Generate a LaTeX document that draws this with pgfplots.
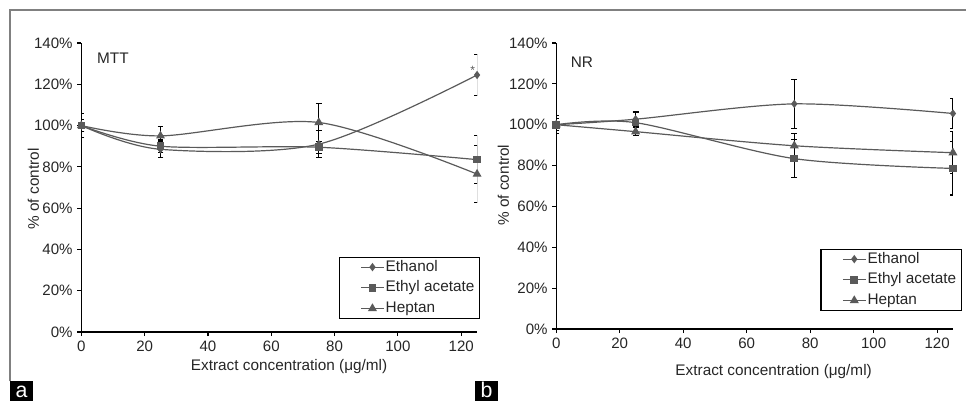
\documentclass[border=0pt]{standalone}
\usepackage{fontspec}
\setmainfont{Liberation Sans}
\usepackage{pgfplots}
\pgfplotsset{compat=1.18}

\definecolor{ser}{HTML}{5A5A5A}
\definecolor{frm}{HTML}{808080}

\pgfplotsset{
  panel/.style={
    scale only axis,
    axis lines*=left,
    axis line style={black, line width=0.8pt},
    xmin=0, xmax=125, ymin=0, ymax=140,
    xtick={0,20,...,120}, ytick={0,20,...,140},
    yticklabel={\pgfmathprintnumber{\tick}\%},
    tick align=outside, major tick length=3pt,
    tick style={black, line width=0.8pt},
    /pgf/number format/assume math mode=true,
    ticklabel style={font=\fontsize{11.3}{13}\selectfont, text=black!85},
    label style={font=\fontsize{11.5}{13}\selectfont, text=black!85},
    ylabel={\% of control},
    xlabel={Extract concentration (μg/ml)},
    error bars/y dir=both, error bars/y explicit,
    error bars/error bar style={black, line width=0.8pt},
    error bars/error mark options={rotate=90, mark size=2.2pt, black, line width=0.8pt},
    legend style={draw=black, line width=0.8pt, fill=white, anchor=south east,
      font=\fontsize{11.5}{13}\selectfont, text=black!85,
      inner xsep=3pt, inner ysep=1pt, row sep=2.5pt,
      nodes={inner xsep=1pt, inner ysep=1pt, text height=8.5pt, text depth=2.5pt}},
    legend cell align=left,
    legend image code/.code={\path (-13pt,0pt);
      \draw[mark repeat=2, mark phase=2] plot coordinates {(0pt,0pt) (8.5pt,0pt) (17pt,0pt)};},
  },
  eth/.style={ser, line width=0.9pt, smooth, tension=0.5, mark=diamond*, mark size=2.4pt, mark options={solid, fill=ser}},
  ea/.style={ser, line width=0.9pt, smooth, tension=0.5, mark=square*, mark size=2.4pt, mark options={solid, fill=ser}},
  hep/.style={ser, line width=0.9pt, smooth, tension=0.5, mark=triangle*, mark size=3pt, mark options={solid, fill=ser}},
}

\begin{document}
\begin{tikzpicture}
\path[use as bounding box] (0pt,0pt) rectangle (724.5pt,300pt);
% frame and panel tags
\draw[frm, line width=1.1pt] (7.5pt,14pt) -- (7.5pt,292.5pt) -- (730pt,292.5pt);
\fill[black] (7.5pt,-2pt) rectangle (24.75pt,14pt);
\node[text=white, font=\fontsize{16}{16}\selectfont, anchor=base] at (16.1pt,2pt) {a};
\fill[black] (356.5pt,-2pt) rectangle (373.5pt,14pt);
\node[text=white, font=\fontsize{16}{16}\selectfont, anchor=base] at (365pt,2pt) {b};

% (a) MTT
\begin{axis}[panel, at={(61pt,51pt)}, anchor=south west,
    width=296.8pt, height=216.75pt,
    ylabel style={at={(axis description cs:-0.121,0.495)}, anchor=center},
    xlabel style={at={(axis description cs:0.525,-0.118)}, anchor=center},
    legend style={at={(1.008,0.045)}},
]
\addplot[eth] coordinates {(0,100) +- (0,6) (25,88.5) +- (0,4) (75,91) +- (0,6.5) (125,124.5) +- (0,10)};
\addlegendentry{Ethanol}
\addplot[ea] coordinates {(0,100) +- (0,3) (25,90) +- (0,3) (75,89.5) +- (0,3) (125,83.5) +- (0,11.5)};
\addlegendentry{Ethyl acetate}
\addplot[hep] coordinates {(0,100) +- (0,3) (25,95) +- (0,4.7) (75,101.5) +- (0,9.3) (125,76.5) +- (0,13.8)};
\addlegendentry{Heptan}
\node[anchor=west, font=\fontsize{11.5}{13}\selectfont, text=black!85] at (axis description cs:0.028,0.948) {MTT};
\node[font=\fontsize{9}{9}\selectfont, text=ser] at (axis cs:123.6,126.5) {*};
\end{axis}

% (b) NR
\begin{axis}[panel, at={(417.2pt,53.25pt)}, anchor=south west,
    width=297.5pt, height=214.5pt,
    ylabel style={at={(axis description cs:-0.133,0.503)}, anchor=center},
    xlabel style={at={(axis description cs:0.548,-0.150)}, anchor=center},
    legend style={at={(1.023,0.063)}},
]
\addplot[eth] coordinates {(0,100) +- (0,4.5) (25,102.7) +- (0,3.7) (75,110.2) +- (0,12) (125,105.5) +- (0,7.4)};
\addlegendentry{Ethanol}
\addplot[ea] coordinates {(0,100) +- (0,3) (25,101) +- (0,5) (75,83.4) +- (0,9.3) (125,78.6) +- (0,13)};
\addlegendentry{Ethyl acetate}
\addplot[hep] coordinates {(0,100) +- (0,3) (25,96.6) +- (0,2.1) (75,89.7) +- (0,6.1) (125,86.3) +- (0,10.3)};
\addlegendentry{Heptan}
\node[anchor=west, font=\fontsize{11.5}{13}\selectfont, text=black!85] at (axis description cs:0.025,0.934) {NR};
\end{axis}
\end{tikzpicture}
\end{document}
